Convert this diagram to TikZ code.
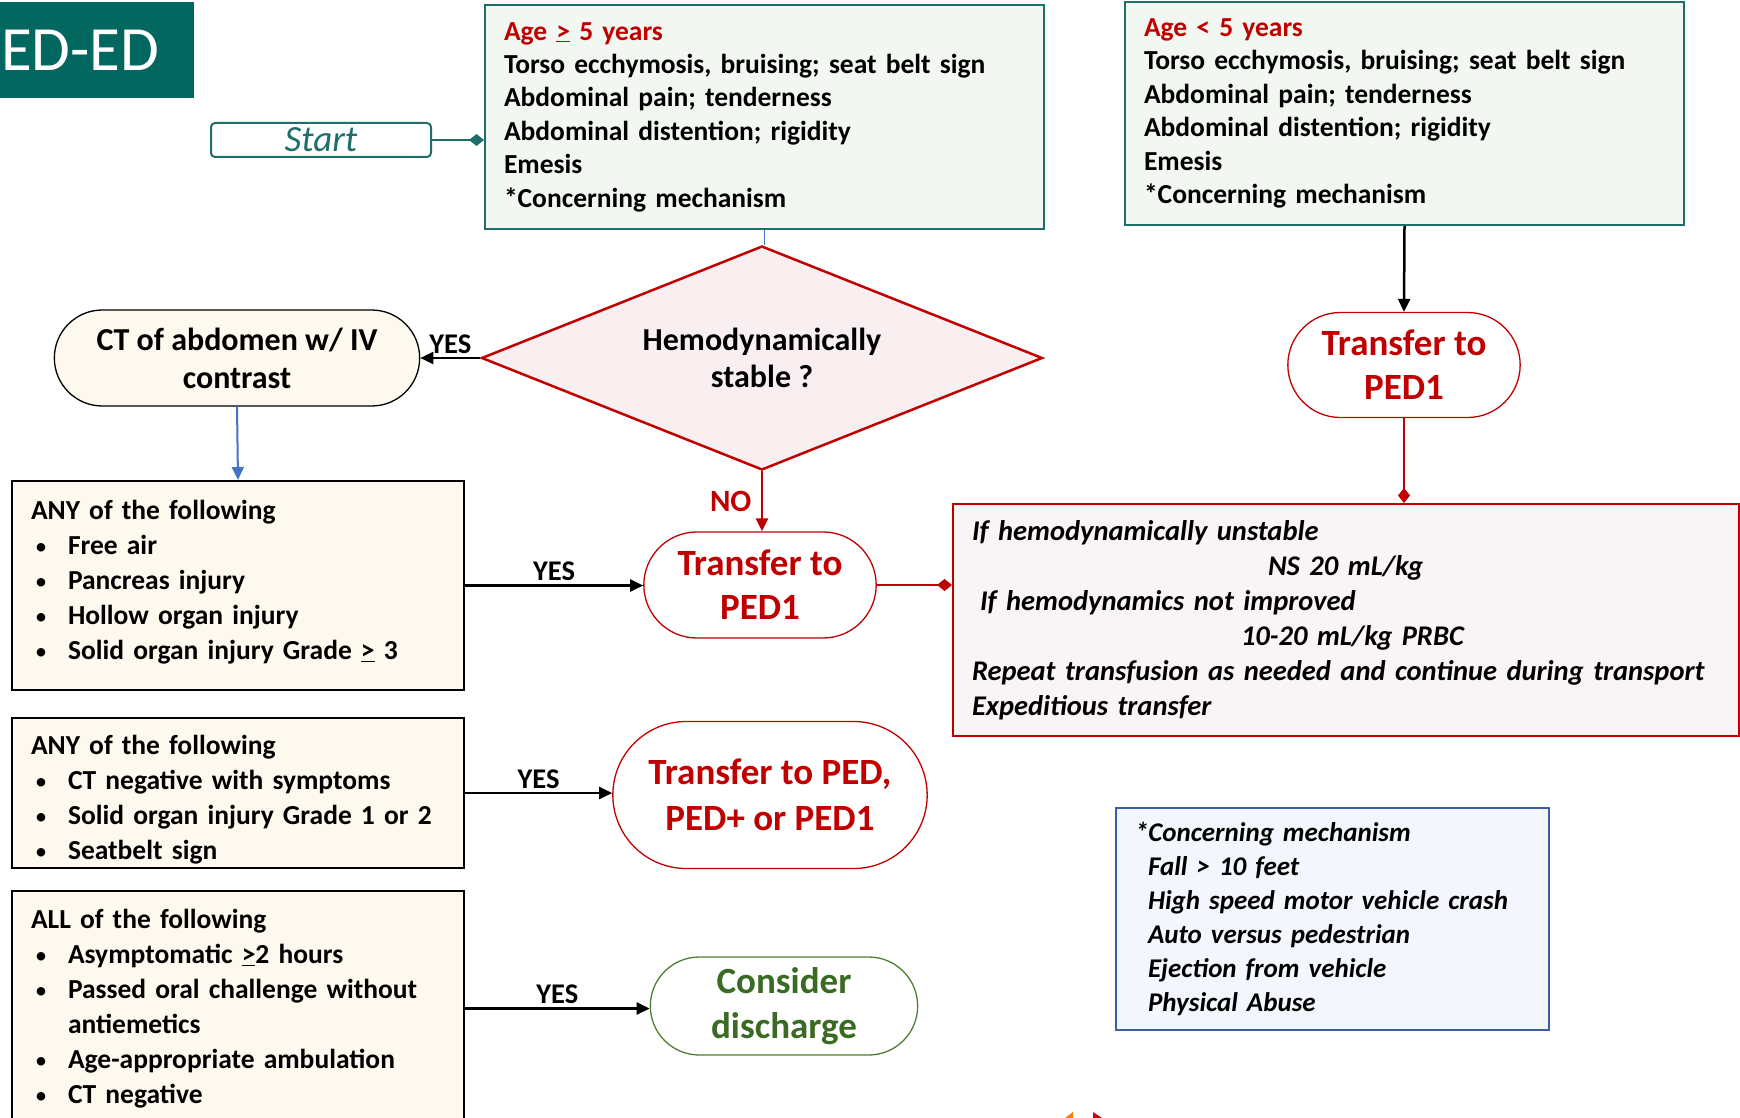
\documentclass[tikz,border=0pt]{standalone}
\usepackage{fontspec}
\setmainfont{Carlito}
\usetikzlibrary{shapes.geometric,shapes.misc,arrows.meta}

\definecolor{edteal}{HTML}{02675F}
\definecolor{tealbd}{HTML}{1E6F69}
\definecolor{greenfill}{HTML}{F2F7F1}
\definecolor{edred}{HTML}{C00000}
\definecolor{pinkfill}{HTML}{F9EFF1}
\definecolor{cream}{HTML}{FEF9EE}
\definecolor{rosefill}{HTML}{F9F4F5}
\definecolor{bluefill}{HTML}{F3F6FC}
\definecolor{bluebd}{HTML}{3B5CA8}
\definecolor{linkblue}{HTML}{4472C4}
\definecolor{homegreen}{HTML}{3A6B22}
\definecolor{homebd}{HTML}{507E32}

\newcommand{\uge}{\underline{>}}
\newcommand{\bul}{\makebox[37pt][l]{\hspace{4pt}{\normalfont\fontsize{24}{24}\selectfont\textbullet}}}

\begin{document}
\begin{tikzpicture}[x=1pt,y=-1pt,
	body/.style={font=\fontsize{27.5}{33.4}\selectfont\bfseries},
	yes/.style={font=\fontsize{28.5}{30}\selectfont\bfseries},
	big/.style={font=\fontsize{37}{44}\selectfont\bfseries},
	infobox/.style={body,draw,line width=2pt,anchor=north west,align=left,inner xsep=19pt,inner ysep=0pt},
	creambox/.style={infobox,fill=cream,text width=414pt,font=\fontsize{27.5}{35}\selectfont\bfseries},
	transfer/.style={big,rounded rectangle,draw=edred,line width=1.3pt,fill=white,text=edred,align=center},
	link/.style={line width=2.5pt,-{Triangle[length=13pt,width=12pt]}},
	diamlink/.style={line width=2.5pt,-{Diamond[length=15pt,width=12pt]}}]
	\useasboundingbox (0,0) rectangle (1740,1118);
	\node[fill=edteal,text=white,anchor=north west,text width=192pt,inner xsep=1pt,minimum height=96pt,align=left,font=\fontsize{63}{70}\selectfont] (title) at (0,2) {ED-ED};
	\node[draw=tealbd,line width=2pt,rounded corners=4pt,minimum width=220pt,minimum height=34pt,inner sep=0pt,text=tealbd,font=\fontsize{37}{37}\selectfont\itshape] (start) at (321,140) {Start};
	\node[infobox,draw=tealbd,fill=greenfill,text width=521pt,minimum height=224pt] (geq) at (484,4) {%
		{\color{edred}Age \uge{} 5 years}\\
		Torso ecchymosis, bruising; seat belt sign\\
		Abdominal pain; tenderness\\
		Abdominal distention; rigidity\\
		Emesis\\
		{*}Concerning mechanism};
	\node[infobox,draw=tealbd,fill=greenfill,text width=521pt,minimum height=223pt] (lt) at (1124,1) {%
		{\color{edred}Age < 5 years}\\
		Torso ecchymosis, bruising; seat belt sign\\
		Abdominal pain; tenderness\\
		Abdominal distention; rigidity\\
		Emesis\\
		{*}Concerning mechanism};
	\node[diamond,aspect=2.5,draw=edred,fill=pinkfill,line width=2.5pt,minimum width=561pt,minimum height=224pt,inner sep=0pt,align=center,font=\fontsize{32}{37}\selectfont\bfseries] (stab) at (762,358) {Hemodynamically\\stable ?};
	\node[rounded rectangle,draw,line width=1.3pt,fill=cream,minimum width=372pt,minimum height=96pt,align=center,font=\fontsize{32}{38}\selectfont\bfseries] (ct) at (237,358) {CT of abdomen w/ IV\\contrast};
	\node[transfer,minimum width=239pt,minimum height=106pt] (ped1) at (760,585) {Transfer to\\PED1};
	\node[transfer,minimum width=239pt,minimum height=105pt] (ped1r) at (1404,365) {Transfer to\\PED1};
	\node[transfer,minimum width=321pt,minimum height=147pt,font=\fontsize{37}{46}\selectfont\bfseries] (pedplus) at (770,795) {Transfer to PED,\\PED+ or PED1};
	\node[transfer,draw=homebd,text=homegreen,minimum width=274pt,minimum height=98pt,font=\fontsize{37}{45}\selectfont\bfseries] (home) at (784,1006) {Consider\\discharge};
	\node[creambox,minimum height=209pt] (any1) at (11,480) {%
		ANY of the following\\
		\bul Free air\\
		\bul Pancreas injury\\
		\bul Hollow organ injury\\
		\bul Solid organ injury Grade \uge{} 3\\[-24pt]\mbox{}};
	\node[creambox,minimum height=150pt] (any2) at (11,717) {%
		\rule{0pt}{33pt}ANY of the following\\
		\bul CT negative with symptoms\\
		\bul Solid organ injury Grade 1 or 2\\
		\bul Seatbelt sign};
	\node[creambox,minimum height=235pt] (all) at (11,890) {%
		ALL of the following\\
		\bul Asymptomatic \uge2 hours\\
		\bul Passed oral challenge without\\
		\hspace*{37pt}antiemetics\\
		\bul Age-appropriate ambulation\\
		\bul CT negative};
	\node[infobox,draw=edred,fill=rosefill,text width=748pt,minimum height=232pt,font=\fontsize{28.5}{35}\selectfont\bfseries\itshape] (ifbox) at (952,503) {%
		If hemodynamically unstable\\
		\hspace*{296pt}NS 20 mL/kg\\
		\hspace*{8pt}If hemodynamics not improved\\
		\hspace*{269pt}10-20 mL/kg PRBC\\
		Repeat transfusion as needed and continue during transport\\
		Expeditious transfer};
	\node[infobox,draw=bluebd,fill=bluefill,text width=395pt,minimum height=222pt,font=\fontsize{27}{34}\selectfont\bfseries\itshape] (mech) at (1115,807) {%
		{*}Concerning mechanism\\
		\hspace*{13pt}Fall > 10 feet\\
		\hspace*{13pt}High speed motor vehicle crash\\
		\hspace*{13pt}Auto versus pedestrian\\
		\hspace*{13pt}Ejection from vehicle\\
		\hspace*{13pt}Physical Abuse};
	\draw[diamlink,tealbd] (start.east) -- (start.east -| geq.west);
	\draw[linkblue,line width=1pt] (geq.south) -- (geq.south |- stab.north);
	\draw[link] (stab.west) -- node[above,yes]{YES} (ct.east);
	\draw[link,linkblue,line width=2pt] (ct.south) -- (any1.north);
	\draw[link,edred] (stab.south) -- node[left=6pt,text=edred,font=\fontsize{31}{32}\selectfont\bfseries]{NO} (stab.south |- ped1.north);
	\draw[link] (any1.east) -- node[above,yes]{YES} (any1.east -| ped1.west);
	\draw[diamlink,edred] (ped1.east) -- (ped1.east -| ifbox.west);
	\draw[link] (lt.south) -- (ped1r.north);
	\draw[diamlink,edred] (ped1r.south) -- (ped1r.south |- ifbox.north);
	\draw[link] (any2.east) -- node[above,yes]{YES} (any2.east -| pedplus.west);
	\draw[link] (all.east) -- node[above,yes]{YES} (all.east -| home.west);
	\fill[orange] (1065,1118) -- (1073,1112) -- (1073,1118) -- cycle;
	\fill[red!80!black] (1093,1112) -- (1102,1118) -- (1093,1118) -- cycle;
\end{tikzpicture}
\end{document}
